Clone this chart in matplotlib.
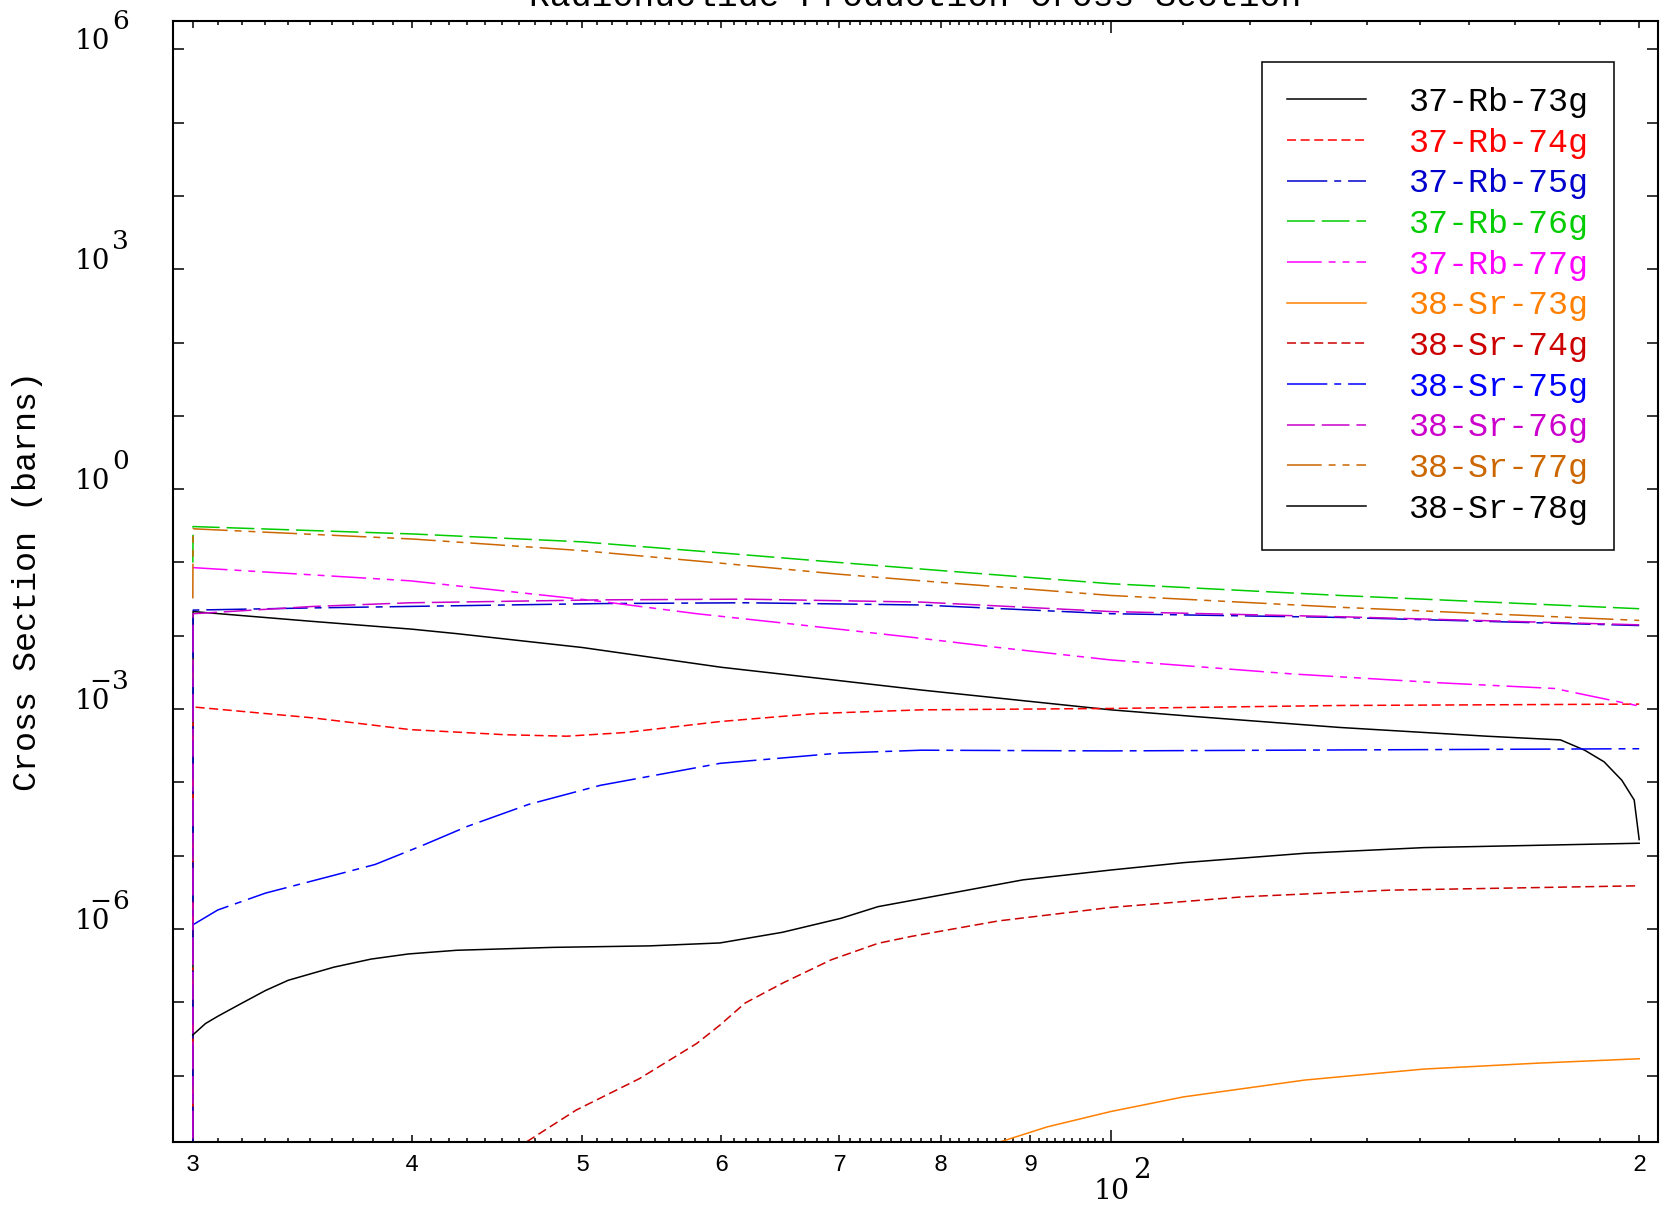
import matplotlib

matplotlib.use("Agg")
import matplotlib.pyplot as plt
from matplotlib.ticker import FixedLocator, FixedFormatter, NullFormatter

plt.rcParams["lines.scale_dashes"] = False

# incident energy (MeV) and cross section (barns)
rb73_e = [30.0, 30.01, 35.0, 40.0, 42.4, 50.0, 60.0, 70.0, 78.0, 100.0, 111.5, 135.0, 163.7, 180.4, 186.2, 191.0, 195.5, 198.7, 200.0]
rb73_xs = [1e-12, 2.14e-2, 1.58e-2, 1.23e-2, 1.07e-2, 6.92e-3, 3.72e-3, 2.45e-3, 1.82e-3, 9.77e-4, 7.94e-4, 5.62e-4, 4.27e-4, 3.80e-4, 2.75e-4, 1.91e-4, 1.07e-4, 5.75e-5, 1.66e-5]

rb74_e = [30.0, 30.01, 35.1, 39.9, 45.2, 49.0, 52.9, 59.9, 68.0, 78.0, 100.0, 135.0, 200.0]
rb74_xs = [1e-12, 1.07e-3, 7.6e-4, 5.25e-4, 4.47e-4, 4.27e-4, 4.79e-4, 6.76e-4, 8.71e-4, 9.77e-4, 1.02e-3, 1.12e-3, 1.17e-3]

rb75_e = [30.0, 30.01, 35.1, 42.4, 51.2, 61.9, 78.0, 100.0, 135.0, 200.0]
rb75_xs = [1e-12, 2.24e-2, 2.40e-2, 2.57e-2, 2.75e-2, 2.82e-2, 2.63e-2, 2.00e-2, 1.78e-2, 1.38e-2]

rb76_e = [30.0, 30.01, 40.0, 50.0, 60.0, 70.0, 80.0, 100.0, 135.0, 200.0]
rb76_xs = [0.100, 0.309, 0.245, 0.191, 0.135, 0.100, 0.0776, 0.0513, 0.0355, 0.0234]

rb77_e = [30.0, 39.9, 51.2, 58.1, 65.8, 77.0, 86.3, 100.0, 126.8, 153.6, 179.0, 200.0]
rb77_xs = [8.51e-2, 5.62e-2, 2.95e-2, 2.00e-2, 1.45e-2, 9.55e-3, 6.92e-3, 4.68e-3, 3.02e-3, 2.29e-3, 1.91e-3, 1.10e-3]

sr73_e = [86.6, 92.0, 100.0, 110.0, 129.0, 150.8, 175.0, 200.0]
sr73_xs = [1.26e-9, 2.00e-9, 3.24e-9, 5.13e-9, 8.71e-9, 1.23e-8, 1.48e-8, 1.70e-8]

sr74_e = [46.5, 49.6, 53.9, 58.1, 59.9, 61.9, 65.0, 69.3, 73.7, 77.0, 86.3, 100.0, 118.9, 144.1, 200.0]
sr74_xs = [1.26e-9, 3.39e-9, 9.12e-9, 2.75e-8, 4.90e-8, 9.77e-8, 1.82e-7, 3.80e-7, 6.38e-7, 7.94e-7, 1.29e-6, 1.97e-6, 2.75e-6, 3.39e-6, 3.89e-6]

sr75_e = [30.0, 31.0, 33.0, 35.8, 38.1, 40.6, 43.0, 46.6, 51.2, 59.9, 70.0, 78.0, 100.0, 200.0]
sr75_xs = [1.14e-6, 1.82e-6, 3.09e-6, 5.13e-6, 7.59e-6, 1.40e-5, 2.51e-5, 5.01e-5, 9.12e-5, 1.82e-4, 2.51e-4, 2.75e-4, 2.69e-4, 2.88e-4]

sr76_e = [30.0, 30.01, 35.1, 39.9, 51.2, 61.9, 78.0, 100.0, 135.0, 200.0]
sr76_xs = [1e-12, 2.00e-2, 2.51e-2, 2.82e-2, 3.09e-2, 3.16e-2, 2.88e-2, 2.14e-2, 1.82e-2, 1.41e-2]

sr77_e = [30.0, 30.01, 40.0, 50.0, 60.0, 70.0, 78.0, 100.0, 135.0, 200.0]
sr77_xs = [3.24e-2, 0.288, 0.209, 0.145, 9.77e-2, 6.92e-2, 5.62e-2, 3.55e-2, 2.45e-2, 1.62e-2]

sr78_e = [30.0, 30.5, 31.0, 32.0, 33.0, 34.0, 36.1, 37.9, 39.8, 42.4, 48.1, 54.6, 59.9, 65.0, 70.2, 73.7, 77.0, 89.1, 100.0, 110.0, 129.0, 150.8, 200.0]
sr78_xs = [3.59e-8, 5.13e-8, 6.46e-8, 9.77e-8, 1.45e-7, 2.00e-7, 3.02e-7, 3.89e-7, 4.57e-7, 5.13e-7, 5.62e-7, 5.89e-7, 6.46e-7, 9.02e-7, 1.40e-6, 2.02e-6, 2.45e-6, 4.68e-6, 6.38e-6, 8.04e-6, 1.08e-5, 1.29e-5, 1.48e-5]

DASH = (0, (6.5, 3.3))
DASHDOT = (0, (29, 5, 5, 5))
LONGDASH = (0, (20, 5))
DASHDOTDOT = (0, (25, 5, 5, 5, 5, 5))

series = [
    ("37-Rb-73g", rb73_e, rb73_xs, "#000000", "-"),
    ("37-Rb-74g", rb74_e, rb74_xs, "#ff0000", DASH),
    ("37-Rb-75g", rb75_e, rb75_xs, "#0000cc", DASHDOT),
    ("37-Rb-76g", rb76_e, rb76_xs, "#00cc00", LONGDASH),
    ("37-Rb-77g", rb77_e, rb77_xs, "#ff00ff", DASHDOTDOT),
    ("38-Sr-73g", sr73_e, sr73_xs, "#ff8000", "-"),
    ("38-Sr-74g", sr74_e, sr74_xs, "#cc0000", DASH),
    ("38-Sr-75g", sr75_e, sr75_xs, "#0000ff", DASHDOT),
    ("38-Sr-76g", sr76_e, sr76_xs, "#cc00cc", LONGDASH),
    ("38-Sr-77g", sr77_e, sr77_xs, "#cc6600", DASHDOTDOT),
    ("38-Sr-78g", sr78_e, sr78_xs, "#000000", "-"),
]

x_major = [30, 40, 50, 60, 70, 80, 90, 100, 200]
x_major_labels = ["3", "4", "5", "6", "7", "8", "9", "", "2"]
x_minor = [v for v in range(31, 100) if v % 10 != 0] + list(range(110, 200, 10))
y_exponents = list(range(-8, 7))
y_labelled = [6, 3, 0, -3, -6]

W, H = 1663, 1207
PT = 0.72  # points per pixel at dpi 100
fig = plt.figure(figsize=(W / 100, H / 100), dpi=100)
ax = fig.add_axes([173 / W, 1 - 1142 / H, (1658 - 173) / W, (1142 - 20.7) / H])
ax.set_xscale("log")
ax.set_yscale("log")

for name, e, xs, color, ls in series:
    ax.plot(e, xs, color=color, linestyle=ls, linewidth=1.1, label=name)

ax.set_xlim(29.23, 205.0)
ax.set_ylim(10 ** -8.905, 10 ** 6.39)

for side in ax.spines.values():
    side.set_linewidth(1.5)

ax.xaxis.set_major_locator(FixedLocator(x_major))
ax.xaxis.set_major_formatter(FixedFormatter(x_major_labels))
ax.xaxis.set_minor_locator(FixedLocator(x_minor))
ax.xaxis.set_minor_formatter(NullFormatter())
ax.yaxis.set_major_locator(FixedLocator([10.0 ** k for k in y_exponents]))
ax.yaxis.set_major_formatter(NullFormatter())
ax.yaxis.set_minor_locator(FixedLocator([]))

ax.tick_params(which="both", direction="in", top=True, right=True, width=1.1)
ax.tick_params(axis="x", which="major", length=4.8, pad=8, labelsize=17, labelfontfamily="Liberation Mono")
ax.tick_params(axis="x", which="minor", length=2.9)
ax.tick_params(axis="y", which="major", length=7.7)

for tick, val in zip(ax.xaxis.get_major_ticks(), x_major):
    if val == 100:
        tick.tick1line.set_markersize(8.4)
        tick.tick2line.set_markersize(8.4)

# decade labels drawn as base + raised exponent, like the original plotter
serif = "DejaVu Serif"
for k in y_labelled:
    ax.annotate("10", xy=(0, 10.0 ** k), xycoords=("axes fraction", "data"),
                xytext=(-63 * PT, 0), textcoords="offset points", ha="right", va="baseline",
                family=serif, fontsize=20, annotation_clip=False)
    ax.annotate(str(abs(k)), xy=(0, 10.0 ** k), xycoords=("axes fraction", "data"),
                xytext=(-61 * PT, 20 * PT), textcoords="offset points", ha="left", va="baseline",
                family=serif, fontsize=19, annotation_clip=False)
    if k < 0:
        ax.annotate("\u2212", xy=(0, 10.0 ** k), xycoords=("axes fraction", "data"),
                    xytext=(-62 * PT, 20 * PT), textcoords="offset points", ha="right", va="baseline",
                    family=serif, fontsize=19, annotation_clip=False)

ax.annotate("10", xy=(100, 0), xycoords=("data", "axes fraction"),
            xytext=(1, -57 * PT), textcoords="offset points", ha="center", va="baseline",
            family=serif, fontsize=20.5, annotation_clip=False)
ax.annotate("2", xy=(100, 0), xycoords=("data", "axes fraction"),
            xytext=(22 * PT, -36 * PT), textcoords="offset points", ha="left", va="baseline",
            family=serif, fontsize=20, annotation_clip=False)

leg = ax.legend(loc="upper left", bbox_to_anchor=(0.7333, 0.9632), borderaxespad=0,
                prop={"family": "Liberation Mono", "size": 24}, handlelength=2.37,
                handletextpad=1.29, borderpad=0.75, labelspacing=0.29,
                fancybox=False, framealpha=1, edgecolor="black")
leg.get_frame().set_linewidth(1.1)
for txt, (_, _, _, color, _) in zip(leg.get_texts(), series):
    txt.set_color(color)

fig.text(0.5505, 1 - 6 / H, "Radionuclide Production Cross Section", ha="center", va="baseline",
         family="Liberation Mono", fontsize=25)
fig.text(28 / W, 1 - 581 / H, "Cross Section (barns)", rotation=90, ha="center", va="center",
         family="Liberation Mono", fontsize=24)

fig.savefig("out.png", dpi=100)
plt.close(fig)
